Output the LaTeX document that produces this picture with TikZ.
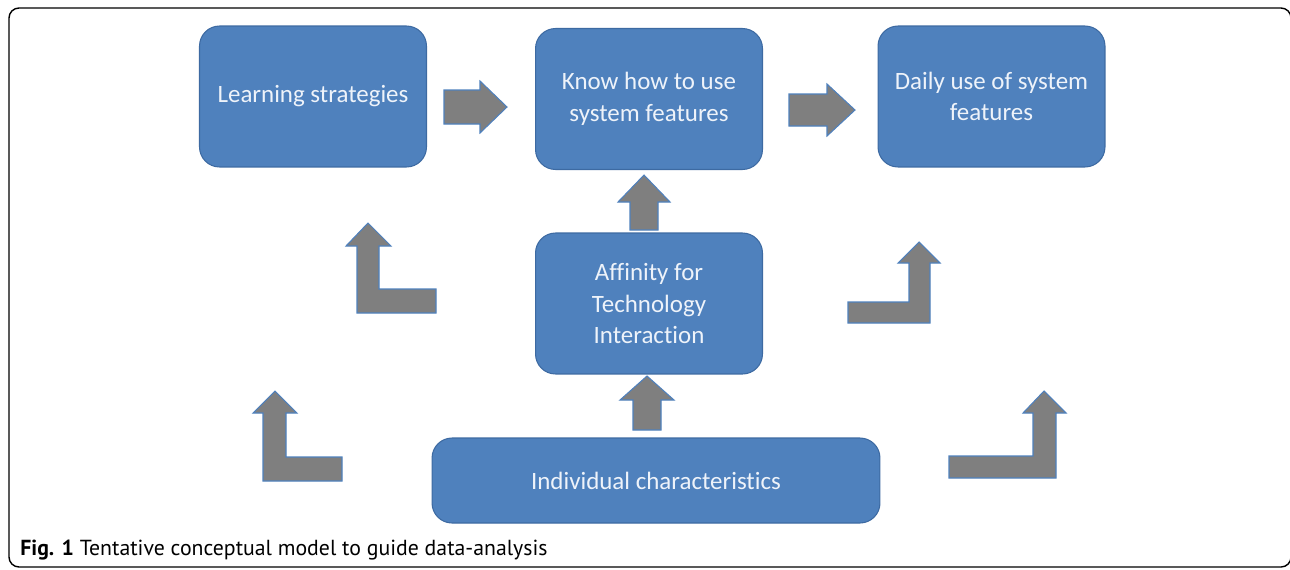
\documentclass[tikz,border=0pt]{standalone}
\usepackage{fontspec}
\setmainfont{Carlito}[Ligatures = NoCommon]
\newfontfamily\captionfont{PT Sans}

\definecolor{boxblue}{HTML}{4F81BD}
\definecolor{boxedge}{HTML}{3D6AA2}
\definecolor{arrowgray}{HTML}{7F7F7F}
\definecolor{textwhite}{HTML}{EEF3FA}

\tikzset{
	concept/.style = {rectangle, rounded corners = 0.4cm, fill = boxblue, draw = boxedge, line width = 0.6pt, text = textwhite, align = center, font = \fontsize{14.2}{18}\selectfont, minimum width = 4.54cm, minimum height = 2.82cm, inner sep = 0pt},
	blockarrow/.style = {fill = arrowgray, draw = boxblue, line width = 0.6pt}
}

\begin{document}
\begin{tikzpicture}[x = 0.02cm, y = -0.02cm]

	\useasboundingbox (0, 0) rectangle (1290, 569);

	% Outer frame
	
	\draw [line width = 0.8pt, rounded corners = 0.2cm] (9, 8) rectangle (1291, 567);
	
	% Concept boxes
	
	\node [concept] (learn) at (313, 96.5) {Learning strategies};
	\node [concept] (know) at (649, 99) {Know how to use\\system features};
	\node [concept] (daily) at (991.5, 96.5) {Daily use of system\\features};
	\node [concept] (affinity) at (649, 303.5) {Affinity for\\Technology\\Interaction};
	\node [concept, minimum width = 8.96cm, minimum height = 1.7cm] (indiv) at (656, 480.5) {Individual characteristics};
	
	% Straight block arrows
	
	\filldraw [blockarrow] (444, 90) -- (480, 90) -- (480, 81) -- (507, 107) -- (480, 133) -- (480, 124) -- (444, 124) -- cycle;
	\filldraw [blockarrow] (789, 94) -- (827, 94) -- (827, 84) -- (855, 110) -- (827, 136) -- (827, 126) -- (789, 126) -- cycle;
	\filldraw [blockarrow] (630, 230) -- (630, 202) -- (618, 202) -- (644, 175) -- (670, 202) -- (658, 202) -- (658, 230) -- cycle;
	\filldraw [blockarrow] (633, 430) -- (633, 400) -- (620, 400) -- (647, 376) -- (674, 400) -- (661, 400) -- (661, 430) -- cycle;
	
	% Bent block arrows, left side
	
	\filldraw [blockarrow] (368, 223) -- (391, 246) -- (379, 246) -- (379, 289) -- (436, 289) -- (436, 313) -- (357, 313) -- (357, 246) -- (346, 246) -- cycle;
	\filldraw [blockarrow] (275, 391) -- (297, 413) -- (286, 413) -- (286, 457) -- (342, 457) -- (342, 481) -- (263, 481) -- (263, 413) -- (253, 413) -- cycle;
	
	% Bent block arrows, right side
	
	\filldraw [blockarrow] (919, 242) -- (940, 263) -- (930, 263) -- (930, 323) -- (848, 323) -- (848, 302) -- (909, 302) -- (909, 263) -- (898, 263) -- cycle;
	\filldraw [blockarrow] (1044, 391) -- (1066, 413) -- (1056, 413) -- (1056, 478) -- (949, 478) -- (949, 456) -- (1033, 456) -- (1033, 413) -- (1023, 413) -- cycle;
	
	% Caption
	
	\node [anchor = west, inner sep = 0pt, font = \captionfont\fontsize{12.4}{14}\selectfont] (caption) at (20, 550) {\textbf{Fig. 1} Tentative conceptual model to guide data-analysis};

\end{tikzpicture}
\end{document}
